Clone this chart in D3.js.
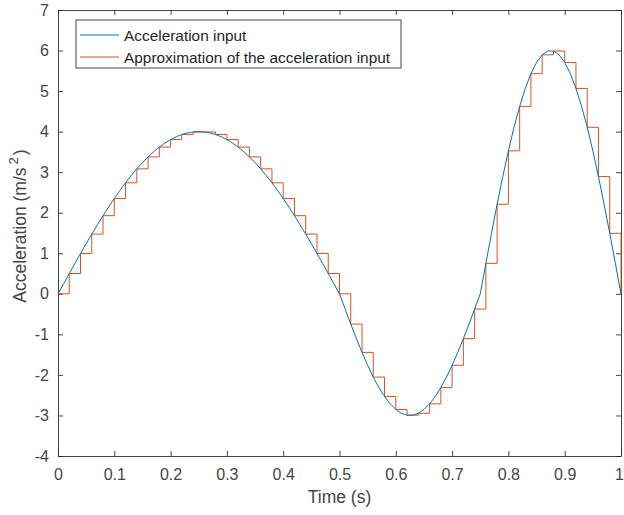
<!DOCTYPE html>
<html lang="en">
<head>
<meta charset="utf-8">
<title>Acceleration input</title>
<script src="https://cdn.jsdelivr.net/npm/d3@7"></script>
<style>
body { margin: 0; background: #fff; }
svg { font-family: "Liberation Sans", Arial, sans-serif; }
</style>
</head>
<body>
<script>
// time samples of the smooth input (s)
var timeFine = d3.range(0, 101).map(function(i){ return i / 100; });
// acceleration input values (m/s^2)
var accelInput = [
  0, 0.251, 0.501, 0.750, 0.995, 1.236, 1.473, 1.703, 1.927, 2.143,
  2.351, 2.550, 2.738, 2.916, 3.082, 3.236, 3.377, 3.505, 3.619, 3.719,
  3.804, 3.874, 3.929, 3.968, 3.992, 4.000, 3.992, 3.968, 3.929, 3.874,
  3.804, 3.719, 3.619, 3.505, 3.377, 3.236, 3.082, 2.916, 2.738, 2.550,
  2.351, 2.143, 1.927, 1.703, 1.473, 1.236, 0.995, 0.750, 0.501, 0.251,
  0, -0.376, -0.746, -1.104, -1.445, -1.763, -2.054, -2.312, -2.533, -2.714,
  -2.853, -2.947, -2.994, -2.994, -2.947, -2.853, -2.714, -2.533, -2.312, -2.054,
  -1.763, -1.445, -1.104, -0.746, -0.376, 0, 0.752, 1.492, 2.209, 2.891,
  3.527, 4.107, 4.623, 5.066, 5.429, 5.706, 5.894, 5.988, 5.988, 5.894,
  5.706, 5.429, 5.066, 4.623, 4.107, 3.527, 2.891, 2.209, 1.492, 0.752,
  0
];
// sample times of the staircase (s), every 0.02
var timeSteps = d3.range(0, 51).map(function(i){ return i / 50; });
// held values of the approximation
var accelSteps = [
  0, 0.501, 0.995, 1.473, 1.927, 2.351, 2.738, 3.082, 3.377, 3.619,
  3.804, 3.929, 3.992, 3.992, 3.929, 3.804, 3.619, 3.377, 3.082, 2.738,
  2.351, 1.927, 1.473, 0.995, 0.501, 0, -0.746, -1.445, -2.054, -2.533,
  -2.853, -2.994, -2.947, -2.714, -2.312, -1.763, -1.104, -0.376, 0.752, 2.209,
  3.527, 4.623, 5.429, 5.894, 5.988, 5.706, 5.066, 4.107, 2.891, 1.492,
  0
];
var xTicks = [0, 0.1, 0.2, 0.3, 0.4, 0.5, 0.6, 0.7, 0.8, 0.9, 1];
var yTicks = [-4, -3, -2, -1, 0, 1, 2, 3, 4, 5, 6, 7];
var legendLabels = ["Acceleration input", "Approximation of the acceleration input"];

var w = 624, h = 515;
var pl = 58, pr = 621, pt = 10, pb = 456;
var blue = "#0072BD", orange = "#D95319", axisCol = "#262626", textCol = "#454545";

var svg = d3.select("body").append("svg")
    .attr("width", w)
    .attr("height", h);

var x = d3.scaleLinear().domain([0, 1]).range([pl, pr]);
var y = d3.scaleLinear().domain([-4, 7]).range([pb, pt]);

// axes with inward ticks, plain hyphen for negatives like matlab
var fmt = function(d){ return String(d); };
var xAxisG = svg.append("g").attr("transform", "translate(0," + pb + ")")
    .call(d3.axisBottom(x).tickValues(xTicks).tickSizeInner(-5).tickSizeOuter(0).tickPadding(13).tickFormat(fmt));
svg.append("g").attr("transform", "translate(0," + pt + ")")
    .call(d3.axisTop(x).tickValues(xTicks).tickSizeInner(-5).tickSizeOuter(0).tickFormat(""));
svg.append("g").attr("transform", "translate(" + pl + ",0)")
    .call(d3.axisLeft(y).tickValues(yTicks).tickSizeInner(-5).tickSizeOuter(0).tickPadding(9).tickFormat(fmt));
svg.append("g").attr("transform", "translate(" + pr + ",0)")
    .call(d3.axisRight(y).tickValues(yTicks).tickSizeInner(-5).tickSizeOuter(0).tickFormat(""));
svg.selectAll(".domain, .tick line").attr("stroke", axisCol).attr("stroke-opacity", 0.85);
svg.selectAll(".tick text")
    .attr("font-size", 16)
    .attr("font-family", "Liberation Sans, Arial, sans-serif")
    .attr("fill", textCol);
// last label sits at the window edge, nudge it in a bit
xAxisG.selectAll(".tick text").filter(function(d){ return d === 1; }).attr("dx", -2);

// the data lines
var lineSmooth = d3.line()
    .x(function(d, i){ return x(timeFine[i]); })
    .y(function(d){ return y(d); });
var lineStairs = d3.line()
    .x(function(d, i){ return x(timeSteps[i]); })
    .y(function(d){ return y(d); })
    .curve(d3.curveStepAfter);

svg.append("path").datum(accelSteps)
    .attr("d", lineStairs)
    .attr("fill", "none").attr("stroke", orange).attr("stroke-width", 1);
svg.append("path").datum(accelInput)
    .attr("d", lineSmooth)
    .attr("fill", "none").attr("stroke", blue).attr("stroke-width", 1);

// axis labels
svg.append("text")
    .attr("x", (pl + pr) / 2).attr("y", 503)
    .attr("text-anchor", "middle")
    .attr("font-size", 17.5).attr("fill", textCol)
    .text("Time (s)");

var yl = svg.append("text")
    .attr("transform", "translate(26," + ((pt + pb) / 2 - 7) + ") rotate(-90)")
    .attr("text-anchor", "middle")
    .attr("font-size", 17.5).attr("fill", textCol);
yl.append("tspan").text("Acceleration (m/s");
yl.append("tspan").attr("dy", -8).attr("dx", 3).attr("font-size", 13).text("2");
yl.append("tspan").attr("dy", 8).attr("dx", 2).text(")");

// legend
var lg = svg.append("g");
lg.append("rect")
    .attr("x", 76).attr("y", 20).attr("width", 325).attr("height", 48)
    .attr("fill", "#fff").attr("stroke", axisCol).attr("stroke-opacity", 0.85);
[blue, orange].forEach(function(c, i){
    var yy = 35 + i * 22;
    lg.append("line")
        .attr("x1", 80).attr("x2", 119).attr("y1", yy).attr("y2", yy)
        .attr("stroke", c).attr("stroke-width", 1);
    lg.append("text")
        .attr("x", 124).attr("y", yy + 5.5)
        .attr("font-size", 15.4).attr("fill", "#262626")
        .text(legendLabels[i]);
});
</script>
</body>
</html>
